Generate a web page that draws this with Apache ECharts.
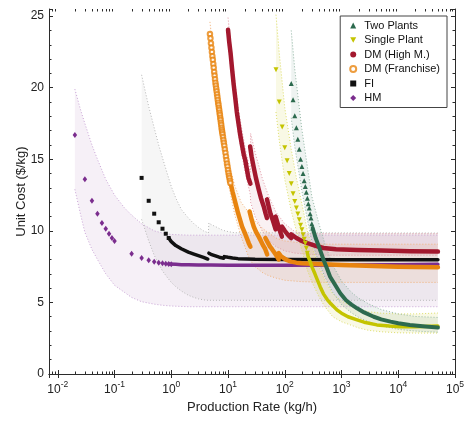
<!DOCTYPE html>
<html>
<head>
<meta charset="utf-8">
<script src="https://cdn.jsdelivr.net/npm/echarts@6/dist/echarts.min.js"></script>
<style>
  html, body { margin: 0; padding: 0; background: #fff; }
  #chart { width: 467px; height: 421px; }
</style>
</head>
<body>
<div id="chart"></div>
<script>
// ---- HM ----
const hmX = [0.02, 0.03, 0.04, 0.05, 0.06, 0.07, 0.08, 0.09, 0.1, 0.2, 0.3, 0.4, 0.5, 0.6, 0.7, 0.8, 0.9, 1.0];
const hmY = [16.7, 13.6, 12.1, 11.2, 10.55, 10.15, 9.8, 9.5, 9.3, 8.4, 8.1, 7.95, 7.85, 7.78, 7.74, 7.71, 7.69, 7.67];
const hmTrailX = [0.9, 1.2, 1.5, 2, 3, 5, 10, 30, 100, 1000, 10000, 50000];
const hmTrailY = [7.69, 7.66, 7.64, 7.63, 7.62, 7.61, 7.6, 7.6, 7.6, 7.62, 7.64, 7.66];
const hmBandX = [0.02, 0.025, 0.03, 0.04, 0.05, 0.07, 0.1, 0.15, 0.2, 0.3, 0.5, 0.7, 1, 2, 5, 50000];
const hmBandHi = [19.9, 18.5, 17.5, 16.0, 15.0, 13.6, 12.5, 11.6, 11.1, 10.5, 10.0, 9.85, 9.75, 9.7, 9.7, 9.7];
const hmBandLo = [12.9, 11.2, 9.9, 8.7, 8.0, 7.0, 6.2, 5.7, 5.35, 5.05, 4.88, 4.8, 4.75, 4.7, 4.7, 4.7];

// ---- FI ----
const fiX = [0.3, 0.4, 0.5, 0.6, 0.7, 0.8, 0.9];
const fiY = [13.7, 12.1, 11.2, 10.6, 10.15, 9.8, 9.5];
const fiTrailX = [0.9, 1, 1.2, 1.5, 2, 2.5, 3, 3.7, 4.4, null, 4.6, 5, 6, 7, 8.4, null, 8.6, 10, 12, 15, 30, 100, 1000, 50000];
const fiTrailY = [9.5, 9.25, 8.97, 8.75, 8.52, 8.38, 8.27, 8.15, 8.03, null, 8.44, 8.36, 8.25, 8.16, 8.09, null, 8.2, 8.15, 8.1, 8.06, 8.02, 8.0, 7.99, 7.99];
const fiBandX = [0.3, 0.35, 0.4, 0.5, 0.6, 0.7, 0.85, 1, 1.2, 1.5, 2, 2.5, 3, 3.7, 4.5, 4.6, 5, 6, 8, 10, 13, 50000];
const fiBandHi = [20.9, 19.7, 18.7, 17.2, 16.0, 15.1, 14.0, 13.1, 12.3, 11.5, 10.9, 10.5, 10.25, 10.0, 9.85, 10.55, 10.45, 10.3, 10.05, 9.95, 9.87, 9.85];
const fiBandLo = [10.8, 10.0, 9.3, 8.3, 7.7, 7.2, 6.75, 6.4, 6.1, 5.8, 5.5, 5.35, 5.25, 5.18, 5.15, 5.15, 5.15, 5.15, 5.15, 5.15, 5.15, 5.15];

// ---- DM (Franchise) ----
const dmfX = [4.8, 4.9, 5.0, 5.1, 5.2, 5.3, 5.4, 5.5, 5.6, 5.7, 5.8, 5.9, 6.0, 6.1, 6.2, 6.3, 6.4, 6.5, 6.6, 6.7, 6.8, 6.9, 7.0, 7.1, 7.2, 7.3, 7.4, 7.5, 7.6, 7.7, 7.8, 7.9, 8.0, 8.15, 8.3, 8.45, 8.6, 8.8, 9.0, 9.2, 9.4, 9.6, 9.8, 10.0, 10.2, 10.4, 10.6, 10.8, 11.0];
const dmfY = [23.75, 23.45, 23.1, 22.8, 22.5, 22.2, 21.95, 21.65, 21.4, 21.1, 20.85, 20.6, 20.35, 20.15, 19.95, 19.75, 19.55, 19.35, 19.15, 18.95, 18.8, 18.6, 18.45, 18.25, 18.1, 17.9, 17.75, 17.55, 17.4, 17.2, 17.05, 16.9, 16.75, 16.55, 16.35, 16.15, 15.95, 15.7, 15.45, 15.2, 14.95, 14.7, 14.5, 14.25, 14.05, 13.85, 13.7, 13.5, 13.35];
const dmfTrailX = [10.6, 12, 13.6, 15, 17.7, 20, 23.2, 24.8, null, 24, 26, 28.4, 31, 34.7, 38, 42, 45, 49, null, 45.5, 50, 55, 60, 65, 72, 78, null, 78, 85, 95, 110, 130, 160, 200, 300, 500, 1000, 2000, 5000, 10000, 20000, 50000];
const dmfTrailY = [13.7, 12.75, 11.9, 11.25, 10.3, 9.8, 9.14, 8.9, null, 11.35, 10.8, 10.3, 9.95, 9.6, 9.3, 8.95, 8.75, 8.35, null, 9.5, 9.2, 8.9, 8.7, 8.5, 8.25, 8.0, null, 8.45, 8.25, 8.1, 7.95, 7.85, 7.78, 7.74, 7.7, 7.66, 7.62, 7.58, 7.53, 7.5, 7.48, 7.46];
const dmfBandX = [4.8, 6, 8, 10, 13, 17, 24, 30, 40, 50, 70, 100, 200, 500, 50000];
const dmfBandHi = [24.6, 21.2, 17.6, 15.0, 13.2, 12.0, 11.2, 10.7, 10.2, 9.9, 9.5, 9.3, 9.15, 9.07, 9.07];
const dmfBandLo = [23.0, 19.6, 16.0, 13.4, 11.2, 9.6, 8.0, 7.5, 7.1, 6.9, 6.7, 6.55, 6.45, 6.4, 6.4];

// ---- DM (High M.) ----
const dmhX = [10, 10.5, 11.1, 11.8, 12.6, 13.5, 14.3, 15.3, 16.4, 17.7, 19, 20.1, 21.5, 22.9, 24.8, null, 24.5, 26, 28.5, 31, 34.7, 38, 42.6, 46, 48.6, null, 48.6, 52, 56, 62, 69, null, 69, 75, 82, 89, null, 89, 100, 115, 130, null, 130, 160, 200, 250, 350, 480, 800, 1880, 5000, 16000, 50000];
const dmhY = [24.05, 23.2, 22.4, 21.3, 20.2, 19.2, 18.3, 17.5, 16.7, 15.95, 15.3, 14.95, 14.3, 13.7, 13.3, null, 15.9, 15.2, 14.4, 13.7, 12.9, 12.3, 11.7, 11.2, 10.9, null, 12.2, 11.7, 11.2, 10.7, 10.1, null, 11.0, 10.5, 10.0, 9.6, null, 10.3, 10.0, 9.7, 9.5, null, 9.75, 9.5, 9.3, 9.14, 8.95, 8.8, 8.72, 8.67, 8.62, 8.57, 8.55];
const dmhBandX = [10, 12, 15, 20, 24.8, 25, 30, 40, 50, 70, 100, 150, 200, 300, 500, 50000];
const dmhBandHi = [24.9, 21.9, 18.6, 15.8, 14.1, 16.8, 15.5, 13.7, 12.6, 11.3, 10.5, 9.95, 9.8, 9.8, 9.8, 9.8];
const dmhBandLo = [23.2, 20.1, 16.9, 14.1, 12.5, 12.0, 11.0, 10.0, 9.4, 8.9, 8.6, 8.45, 8.4, 8.35, 8.3, 8.3];

// ---- Single Plant ----
const spX = [70, 80, 90, 100, 110, 120, 130, 140, 150, 160, 170, 180, 190, 200, 210, 220, 230, 240, 250];
const spY = [21.26, 19.0, 17.25, 15.8, 14.9, 14.0, 13.3, 12.6, 12.05, 11.6, 11.17, 10.77, 10.4, 10.07, 9.72, 9.42, 9.14, 8.79, 8.44];
const spTrailX = [250, 260, 280, 300, 340, 375, 420, 480, 560, 650, 830, 1000, 1300, 1880, 2500, 4200, 7000, 11000, 20000, 50000];
const spTrailY = [8.44, 8.16, 7.85, 7.5, 7.0, 6.57, 6.1, 5.6, 5.2, 4.9, 4.48, 4.25, 4.0, 3.78, 3.62, 3.43, 3.35, 3.3, 3.3, 3.35];
const spBandX = [70, 80, 100, 130, 160, 200, 250, 300, 400, 500, 700, 1000, 1500, 2000, 3000, 5000, 10000, 20000, 50000];
const spBandHi = [25.1, 22.4, 18.6, 15.7, 13.7, 11.9, 10.0, 8.9, 7.5, 6.6, 5.6, 5.1, 4.75, 4.55, 4.35, 4.25, 4.2, 4.2, 4.26];
const spBandLo = [18.3, 16.3, 13.6, 11.4, 10.0, 8.65, 7.25, 6.45, 5.4, 4.75, 4.0, 3.65, 3.4, 3.22, 3.05, 2.95, 2.88, 2.86, 2.86];

// ---- Two Plants ----
const tpX = [130, 140, 150, 160, 170, 180, 190, 200, 210, 220, 230, 240, 250, 260, 270, 280, 290, 300, 310];
const tpY = [20.3, 19.16, 18.04, 17.2, 16.4, 15.7, 15.0, 14.5, 14.0, 13.5, 13.1, 12.7, 12.28, 11.9, 11.6, 11.2, 10.9, 10.5, 10.2];
const tpTrailX = [310, 350, 400, 483, 550, 630, 750, 950, 1200, 1500, 1880, 2500, 3700, 5000, 7300, 10000, 16000, 30000, 50000];
const tpTrailY = [10.2, 9.5, 8.9, 7.97, 7.4, 6.8, 6.3, 5.64, 5.15, 4.85, 4.59, 4.3, 4.0, 3.82, 3.66, 3.55, 3.43, 3.32, 3.25];
const tpBandX = [130, 150, 200, 250, 300, 400, 500, 700, 1000, 1500, 2000, 3000, 5000, 10000, 20000, 50000];
const tpBandHi = [24.0, 21.3, 17.1, 14.5, 12.4, 10.5, 9.2, 7.6, 6.5, 5.7, 5.3, 4.9, 4.5, 4.2, 4.02, 3.95];
const tpBandLo = [17.9, 15.9, 12.8, 10.8, 9.25, 7.8, 6.85, 5.7, 4.85, 4.27, 3.96, 3.65, 3.36, 3.12, 3.0, 2.92];

// axis
const xDecades = [-3, -2, -1, 0, 1, 2, 3, 4];

const FONT = 'Liberation Sans, Arial, Helvetica, sans-serif';
const AXIS = '#2b2b2b';
const DOWN_TRI = 'path://M0,0L10,0L5,9Z';

const C = {
  two: '#2c6a4e', single: '#c4c400', dmh: '#a3182e', dmf: '#e8840f', fi: '#111111', hm: '#7b2d8e'
};

function pairs(xs, ys) {
  return xs.map((x, i) => (x === null || ys[i] === null) ? ['-', '-'] : [x, ys[i]]);
}

function band(xs, lo, hi, fill) {
  const data = xs.map((x, i) => [x, lo[i], hi[i]]);
  return {
    type: 'custom', silent: true, clip: true, z: 1,
    data: data,
    encode: { x: 0, y: 1 },
    renderItem(params, api) {
      if (params.dataIndex !== 0) return;
      const pts = [];
      for (let i = 0; i < data.length; i++) pts.push(api.coord([data[i][0], data[i][2]]));
      for (let i = data.length - 1; i >= 0; i--) pts.push(api.coord([data[i][0], data[i][1]]));
      return { type: 'polygon', shape: { points: pts }, style: { fill: fill } };
    }
  };
}

function edge(xs, ys, color) {
  return {
    type: 'line', data: pairs(xs, ys), symbol: 'none', silent: true, z: 2,
    lineStyle: { color: color, width: 1, type: [1, 2] }
  };
}

function trail(xs, ys, color, w) {
  return {
    type: 'line', data: pairs(xs, ys), symbol: 'none', silent: true, z: 3,
    lineStyle: { color: color, width: w, cap: 'round', join: 'round' }
  };
}

function marks(name, xs, ys, symbol, size, color) {
  return {
    type: 'scatter', name: name, data: pairs(xs, ys), symbol: symbol, symbolSize: size, z: 4,
    itemStyle: { color: color, opacity: 1 }
  };
}

// minor ticks of the log axis (2..9 per decade)
const minorX = [];
xDecades.forEach(d => { for (let k = 2; k <= 9; k++) { const v = k * Math.pow(10, d); if (v > 0.007 && v < 1e5) minorX.push(v); } });

const chart = echarts.init(document.getElementById('chart'));

const series = [
  band(hmBandX, hmBandLo, hmBandHi, 'rgba(123,45,142,0.07)'),
  band(fiBandX, fiBandLo, fiBandHi, 'rgba(0,0,0,0.035)'),
  band(dmfBandX, dmfBandLo, dmfBandHi, 'rgba(232,132,15,0.08)'),
  band(dmhBandX, dmhBandLo, dmhBandHi, 'rgba(163,24,46,0.06)'),
  band(spBandX, spBandLo, spBandHi, 'rgba(196,196,0,0.10)'),
  band(tpBandX, tpBandLo, tpBandHi, 'rgba(44,106,78,0.08)'),

  edge(hmBandX, hmBandHi, '#c9a3d6'), edge(hmBandX, hmBandLo, '#c9a3d6'),
  edge(fiBandX, fiBandHi, '#b8b8b8'), edge(fiBandX, fiBandLo, '#b8b8b8'),
  edge(dmfBandX, dmfBandHi, '#f2b27a'), edge(dmfBandX, dmfBandLo, '#f2b27a'),
  edge(dmhBandX, dmhBandHi, '#e29aa6'), edge(dmhBandX, dmhBandLo, '#e29aa6'),
  edge(spBandX, spBandHi, '#dede6a'), edge(spBandX, spBandLo, '#dede6a'),
  edge(tpBandX, tpBandHi, '#93b7a5'), edge(tpBandX, tpBandLo, '#93b7a5'),

  trail(hmTrailX, hmTrailY, C.hm, 3.5),
  marks('HM', hmX, hmY, 'diamond', [4.5, 6], C.hm),
  trail(fiTrailX, fiTrailY, C.fi, 3.5),
  marks('FI', fiX, fiY, 'rect', 4, C.fi),
  trail(dmfTrailX, dmfTrailY, C.dmf, 4.5),
  {
    type: 'scatter', name: 'DM (Franchise)', data: pairs(dmfX, dmfY), symbol: 'emptyCircle', symbolSize: 4.5, z: 4,
    itemStyle: { color: C.dmf, borderColor: C.dmf, borderWidth: 0.9 }
  },
  {
    type: 'line', name: 'DM (High M.)', data: pairs(dmhX, dmhY), symbol: 'none', z: 3,
    itemStyle: { color: C.dmh },
    lineStyle: { color: C.dmh, width: 4.5, cap: 'round', join: 'round' }
  },
  trail(spTrailX, spTrailY, C.single, 3.5),
  marks('Single Plant', spX, spY, DOWN_TRI, 5, C.single),
  trail(tpTrailX, tpTrailY, C.two, 4),
  marks('Two Plants', tpX, tpY, 'triangle', 5, C.two),

  {
    type: 'custom', silent: true, z: 6, clip: false,
    data: minorX.map(v => [v, 0]),
    encode: { x: 0, y: 1 },
    renderItem(params, api) {
      const cs = params.coordSys;
      const x = Math.round(api.coord([api.value(0), 0])[0]) + 0.5;
      const yb = cs.y + cs.height, yt = cs.y;
      return {
        type: 'group', children: [
          { type: 'line', shape: { x1: x, y1: yb, x2: x, y2: yb - 2.5 }, style: { stroke: AXIS, lineWidth: 1 } },
          { type: 'line', shape: { x1: x, y1: yt, x2: x, y2: yt + 2.5 }, style: { stroke: AXIS, lineWidth: 1 } }
        ]
      };
    }
  }
];

function isDecade(v) {
  const l = Math.log10(v);
  return Math.abs(l - Math.round(l)) < 1e-6;
}

const xBase = {
  type: 'log', logBase: 10, min: 0.007, max: 100000,
  axisLine: { show: true, lineStyle: { color: AXIS, width: 1 } },
  axisTick: { show: true, inside: true, length: 4, lineStyle: { color: AXIS } },
  splitLine: { show: false }
};
const yBase = {
  type: 'value', min: 0, max: 25.5, interval: 5,
  axisLine: { show: true, lineStyle: { color: AXIS, width: 1 } },
  axisTick: { show: true, inside: true, length: 4, lineStyle: { color: AXIS } },
  minorTick: { show: true, splitNumber: 5, length: 2.5, lineStyle: { color: AXIS } },
  splitLine: { show: false }
};

chart.setOption({
  animation: false,
  backgroundColor: '#fff',
  textStyle: { fontFamily: FONT },
  grid: { left: 49, right: 12, top: 9, bottom: 47, outerBoundsMode: 'none', containLabel: false },
  legend: {
    data: [
      { name: 'Two Plants', icon: 'triangle' },
      { name: 'Single Plant', icon: DOWN_TRI },
      { name: 'DM (High M.)', icon: 'circle' },
      { name: 'DM (Franchise)', icon: 'emptyCircle' },
      { name: 'FI', icon: 'rect' },
      { name: 'HM', icon: 'diamond' }
    ],
    orient: 'vertical', right: 20, top: 16,
    itemWidth: 6, itemHeight: 6, itemGap: 3.5,
    padding: [4, 7, 4, 9],
    backgroundColor: '#fff', borderColor: '#444', borderWidth: 1, borderRadius: 0,
    textStyle: { fontSize: 11, color: '#111', fontFamily: FONT, padding: [0, 0, 0, 3] }
  },
  xAxis: [
    Object.assign({}, xBase, {
      position: 'bottom',
      name: 'Production Rate (kg/h)', nameLocation: 'middle', nameGap: 27, nameMoveOverlap: false,
      nameTextStyle: { fontSize: 13, color: '#222', fontFamily: FONT },
      axisLabel: {
        margin: 6, color: '#222', fontFamily: FONT,
        formatter: v => isDecade(v) ? '{b|10}{s|' + Math.round(Math.log10(v)) + '}' : '',
        rich: {
          b: { fontSize: 12, fontFamily: FONT, color: '#222', lineHeight: 16, verticalAlign: 'bottom' },
          s: { fontSize: 8.5, fontFamily: FONT, color: '#222', lineHeight: 10, verticalAlign: 'top' }
        }
      }
    }),
    Object.assign({}, xBase, { position: 'top', axisLabel: { show: false } })
  ],
  yAxis: [
    Object.assign({}, yBase, {
      position: 'left',
      name: 'Unit Cost ($/kg)', nameLocation: 'middle', nameGap: 21, nameMoveOverlap: false,
      nameTextStyle: { fontSize: 13, color: '#222', fontFamily: FONT },
      axisLabel: { margin: 5, fontSize: 12, color: '#222', fontFamily: FONT }
    }),
    Object.assign({}, yBase, { position: 'right', axisLabel: { show: false } })
  ],
  series: series
});
</script>
</body>
</html>
